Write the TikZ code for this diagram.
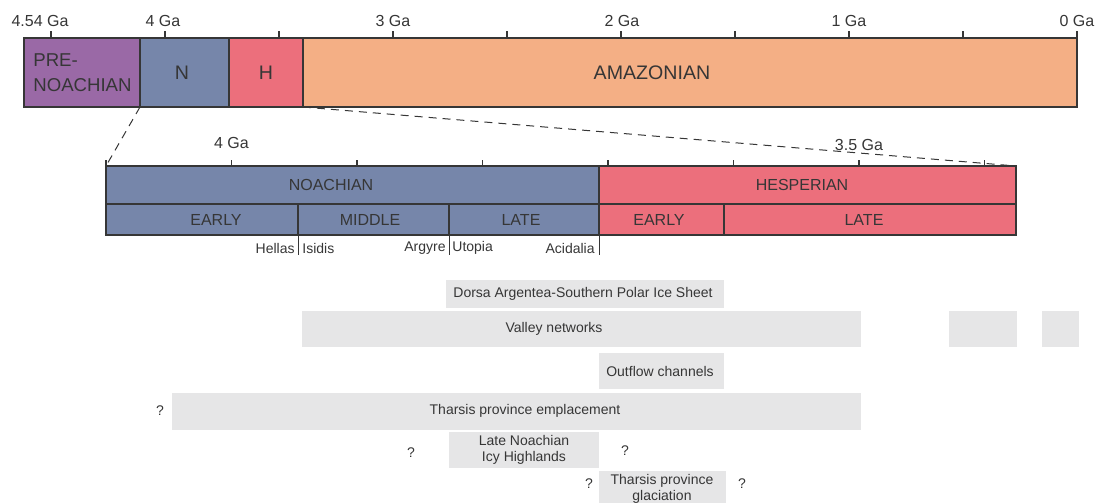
\documentclass[tikz,border=0pt]{standalone}
\usepackage{fontspec}
\setmainfont{Liberation Sans}

\definecolor{prenoachian}{HTML}{9A69A6}
\definecolor{noachian}{HTML}{7686AA}
\definecolor{hesperian}{HTML}{EC6F7C}
\definecolor{amazonian}{HTML}{F4AF85}
\definecolor{featgray}{HTML}{E6E6E7}
\definecolor{inkgray}{HTML}{363636}

\tikzset{
  period/.style={draw=inkgray, line width=1pt},
  feature/.style={fill=featgray, draw=none},
  biglabel/.style={text=inkgray, font=\fontsize{9.8}{12.5}\selectfont},
  agelabel/.style={text=inkgray, font=\fontsize{8}{9.6}\selectfont},
  sublabel/.style={text=inkgray, font=\fontsize{7}{8.4}\selectfont, inner sep=1pt},
  featlabel/.style={text=inkgray, font=\fontsize{7}{8.2}\selectfont, align=center, inner sep=0pt},
}

\begin{document}
\begin{tikzpicture}[x=0.5pt, y=-0.5pt]
        \clip (0,0) rectangle (1097,503);

        % Top time scale: ticks every 0.5 Ga
        \foreach \tx in {51,165,279,393,507,621,735,849,963,1077}
            \draw[inkgray, line width=0.7pt] (\tx,31) -- (\tx,38);
        \node[agelabel] (t454) at (40,21) {4.54 Ga};
        \node[agelabel] (t4) at (163,21) {4 Ga};
        \node[agelabel] (t3) at (393,21) {3 Ga};
        \node[agelabel] (t2) at (622,21) {2 Ga};
        \node[agelabel] (t1) at (849,21) {1 Ga};
        \node[agelabel] (t0) at (1077,21) {0 Ga};

        % Periods of the full history
        \draw[period, fill=prenoachian] (24,38) rectangle (140,107);
        \draw[period, fill=noachian] (140,38) rectangle (229,107);
        \draw[period, fill=hesperian] (229,38) rectangle (303,107);
        \draw[period, fill=amazonian] (303,38) rectangle (1077,107);
        \node[biglabel, font=\fontsize{9.3}{12.5}\selectfont, align=left, anchor=west, inner sep=0pt] (pren) at (33,72.5) {PRE-\\NOACHIAN};
        \node[biglabel] (nshort) at (182,72.5) {N};
        \node[biglabel] (hshort) at (266,72.5) {H};
        \node[biglabel] (amaz) at (652,72.5) {AMAZONIAN};

        % Zoom lines down to the detailed scale
        \coordinate (zoomA) at (140,107);
        \coordinate (zoomB) at (303,107);
        \coordinate (zoomC) at (106,166);
        \coordinate (zoomD) at (1016,166);
        \draw[inkgray, dash pattern=on 4pt off 3pt, line width=0.5pt] (zoomA) -- (zoomC);
        \draw[inkgray, dash pattern=on 4pt off 3pt, line width=0.5pt] (zoomB) -- (zoomD);

        % Detailed time scale
        \foreach \tx in {106,231.5,357,482.5,608,733.5,859,984.5}
            \draw[inkgray, line width=0.6pt] (\tx,160) -- (\tx,166);
        \node[agelabel] (d4) at (231.5,143) {4 Ga};
        \node[agelabel] (d35) at (859,145) {3.5 Ga};

        % Noachian and Hesperian with their epochs
        \draw[period, fill=noachian] (106,166) rectangle (599,204);
        \draw[period, fill=hesperian] (599,166) rectangle (1016,204);
        \draw[period, fill=noachian] (106,204) rectangle (298,235);
        \draw[period, fill=noachian] (298,204) rectangle (449,235);
        \draw[period, fill=noachian] (449,204) rectangle (599,235);
        \draw[period, fill=hesperian] (599,204) rectangle (723.5,235);
        \draw[period, fill=hesperian] (723.5,204) rectangle (1016,235);
        \node[agelabel] (noach) at (331,185) {NOACHIAN};
        \node[agelabel] (hesp) at (802,185) {HESPERIAN};
        \node[agelabel] (nearly) at (216,219.5) {EARLY};
        \node[agelabel] (nmiddle) at (370,219.5) {MIDDLE};
        \node[agelabel] (nlate) at (521,219.5) {LATE};
        \node[agelabel] (hearly) at (659,219.5) {EARLY};
        \node[agelabel] (hlate) at (864,219.5) {LATE};

        % Impact basins
        \foreach \tx in {298,449,599}
            \draw[inkgray, line width=0.4pt] (\tx,235) -- (\tx,255);
        \node[sublabel, anchor=east] (hellas) at (297,248) {Hellas};
        \node[sublabel, anchor=west] (isidis) at (300,248) {Isidis};
        \node[sublabel, anchor=east] (argyre) at (448,248) {Argyre};
        \node[sublabel, anchor=west] (utopia) at (450,248) {Utopia};
        \node[sublabel, anchor=east] (acidalia) at (597,248) {Acidalia};

        % Features and their time spans
        \fill[feature] (446,280) rectangle (724,308);
        \node[featlabel] (dorsa) at (583,294) {Dorsa Argentea-Southern Polar Ice Sheet};

        \fill[feature] (302,311) rectangle (861,347);
        \fill[feature] (949,311) rectangle (1017,347);
        \fill[feature] (1042,311) rectangle (1079,347);
        \node[featlabel] (valley) at (554,329) {Valley networks};

        \fill[feature] (599,353) rectangle (724,389);
        \node[featlabel] (outflow) at (660,371) {Outflow channels};

        \fill[feature] (172,393) rectangle (861,430);
        \node[featlabel] (emplace) at (525,411) {Tharsis province emplacement};
        \node[featlabel] (q1) at (160,411) {?};

        \fill[feature] (449,432) rectangle (599,468);
        \node[featlabel] (icy) at (524,450) {Late Noachian\\Icy Highlands};
        \node[featlabel] (q2) at (411,453) {?};
        \node[featlabel] (q3) at (625,451) {?};

        \fill[feature] (599,471) rectangle (726,515);
        \node[featlabel, anchor=north] (glac) at (662,474) {Tharsis province\\glaciation};
        \node[featlabel] (q4) at (589,484) {?};
        \node[featlabel] (q5) at (742,484) {?};
    \end{tikzpicture}
\end{document}
